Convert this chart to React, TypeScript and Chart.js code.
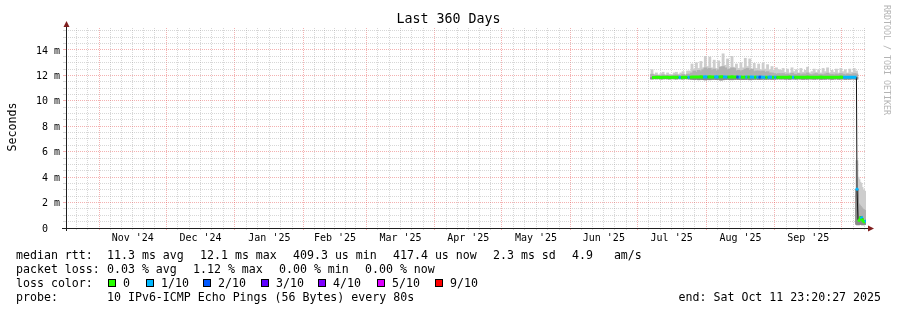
import React, { useEffect, useRef } from "react";
import { Chart, registerables } from "chart.js";

Chart.register(...registerables);

// ---------------- time window ----------------
const WINDOW_START_UTC = Date.UTC(2024, 9, 16, 23, 20, 27);
const WINDOW_DAYS = 360;
const TITLE = "Last 360 Days";
const END_LABEL = "end: Sat Oct 11 23:20:27 2025";
const MONTH_NAMES = ["Jan", "Feb", "Mar", "Apr", "May", "Jun", "Jul", "Aug", "Sep", "Oct", "Nov", "Dec"];
const GRID_MONTHS: [number, number][] = [
  [2024, 9], [2024, 10], [2024, 11], [2025, 0], [2025, 1], [2025, 2], [2025, 3],
  [2025, 4], [2025, 5], [2025, 6], [2025, 7], [2025, 8], [2025, 9], [2025, 10],
];

// ---------------- y axis ----------------
const Y_MAX = 15.73; // milliseconds
const Y_GRID_STEP = 0.5;
const Y_LABEL_EVERY = 2;

// ---------------- data (ms), one sample per day from firstSampleDay ----------------
const firstSampleDay = 263.7;
const median = [
  11.83, 11.84, 11.85, 11.85, 11.84, 11.85, 11.86, 11.85, 11.84, 11.85, 11.85, 11.86, 11.85, 11.84, 11.85, 11.86, 11.85,
  11.86, 11.87, 11.88, 11.87, 11.88, 11.89, 11.88, 11.9, 11.88, 11.89, 11.88, 11.87, 11.89, 11.88, 11.9, 11.89, 11.88,
  11.87, 11.88, 11.89, 11.88, 11.87, 11.88, 11.87, 11.86, 11.88, 11.87, 11.88, 11.87, 11.86, 11.87, 11.86, 11.87, 11.86,
  11.85, 11.86, 11.87, 11.86, 11.85, 11.86, 11.85,
  11.85, 11.86, 11.85, 11.86, 11.87, 11.86, 11.85, 11.86, 11.85, 11.86, 11.86, 11.85, 11.87, 11.86, 11.85, 11.86, 11.85,
  11.86, 11.87, 11.86, 11.85, 11.86, 11.85, 11.86, 11.86, 11.85, 11.86, 11.87, 11.86, 11.85, 11.86, 11.85, 11.86, 11.86, 11.85,
];
const pingMin = [
  11.72, 11.74, 11.73, 11.74, 11.72, 11.73, 11.74, 11.73, 11.72, 11.74, 11.73, 11.72, 11.74, 11.73, 11.72, 11.74, 11.73,
  11.72, 11.7, 11.68, 11.7, 11.66, 11.69, 11.67, 11.65, 11.68, 11.66, 11.69, 11.7, 11.67, 11.68, 11.64, 11.66, 11.68,
  11.7, 11.67, 11.66, 11.69, 11.7, 11.68, 11.69, 11.67, 11.68, 11.7, 11.66, 11.69, 11.7, 11.71, 11.69, 11.7, 11.72,
  11.7, 11.71, 11.72, 11.7, 11.71, 11.72, 11.73,
  11.72, 11.73, 11.71, 11.72, 11.7, 11.73, 11.72, 11.71, 11.73, 11.72, 11.7, 11.72, 11.71, 11.73, 11.72, 11.71, 11.72,
  11.73, 11.7, 11.72, 11.71, 11.73, 11.72, 11.7, 11.72, 11.73, 11.71, 11.72, 11.73, 11.7, 11.72, 11.71, 11.73, 11.72, 11.71,
];
const pingMid = [
  12.1, 12.0, 12.02, 11.98, 12.0, 12.05, 11.98, 12.02, 12.0, 11.97, 12.03, 12.05, 12.0, 12.02, 12.08, 11.98, 12.1,
  12.1, 12.2, 12.35, 12.25, 12.4, 12.3, 12.45, 12.6, 12.5, 12.55, 12.4, 12.5, 12.35, 12.45, 12.65, 12.7, 12.6,
  12.45, 12.5, 12.6, 12.55, 12.35, 12.4, 12.3, 12.4, 12.5, 12.55, 12.4, 12.5, 12.3, 12.35, 12.35, 12.3, 12.35,
  12.25, 12.3, 12.2, 12.2, 12.15, 12.1, 12.15,
  12.12, 12.15, 12.08, 12.12, 12.05, 12.18, 12.1, 12.08, 12.15, 12.05, 12.12, 12.1, 12.2, 12.08, 12.05, 12.12, 12.15,
  12.08, 12.1, 12.05, 12.12, 12.18, 12.08, 12.1, 12.05, 12.12, 12.08, 12.15, 12.1, 12.05, 12.12, 12.08, 12.1, 12.15, 12.12,
];
const pingMax = [
  12.45, 12.1, 12.2, 12.05, 12.15, 12.25, 12.05, 12.2, 12.1, 12.05, 12.2, 12.25, 12.1, 12.2, 12.3, 12.05, 12.35,
  12.35, 12.9, 12.5, 13.0, 12.55, 13.1, 12.6, 13.5, 12.7, 13.45, 12.6, 13.2, 12.55, 13.15, 12.7, 13.7, 12.8,
  13.3, 12.6, 13.5, 12.65, 12.9, 12.55, 13.0, 12.6, 13.35, 12.7, 13.3, 12.5, 12.95, 12.55, 12.9, 12.45, 12.95,
  12.5, 12.85, 12.45, 12.7, 12.4, 12.6, 12.45,
  12.4, 12.55, 12.25, 12.5, 12.2, 12.6, 12.3, 12.45, 12.2, 12.55, 12.25, 12.4, 12.65, 12.2, 12.3, 12.5, 12.25,
  12.45, 12.2, 12.55, 12.3, 12.6, 12.2, 12.4, 12.25, 12.5, 12.2, 12.55, 12.3, 12.45, 12.2, 12.5, 12.25, 12.55, 12.35,
];
// lost pings out of 10
const lossTenths = [
  0, 0, 0, 0, 0, 0, 0, 0, 0, 0,
  0, 0, 1, 0, 0, 0, 1, 0, 0, 0,
  0, 0, 0, 1, 1, 0, 0, 0, 1, 1,
  0, 0, 1, 1, 0, 0, 0, 0, 2, 1,
  0, 0, 1, 0, 1, 1, 0, 1, 2, 1,
  1, 0, 1, 1, 0, 1, 0, 0, 0, 0,
  0, 0, 0, 1, 0, 0, 0, 0, 0, 0,
  0, 0, 0, 0, 0, 0, 0, 0, 0, 0,
  0, 0, 0, 0, 0, 0, 1, 1, 1, 1,
  1, 1, 0,
];
// last days at finer resolution (after the latency drop)
const tailDays = [355.95, 356.4, 356.85, 357.3, 357.75, 358.2, 358.65, 359.1, 359.55, 359.95];
const tailMedian = [3.05, 0.65, 0.6, 0.7, 0.9, 0.75, 0.55, 0.5, 0.6, 0.55];
const tailMin = [0.3, 0.25, 0.3, 0.3, 0.35, 0.3, 0.25, 0.3, 0.3, 0.3];
const tailMid = [2.6, 1.9, 1.8, 1.7, 1.6, 1.5, 1.45, 1.4, 1.35, 1.3];
const tailMax = [5.3, 4.0, 3.8, 3.6, 3.5, 3.2, 3.0, 2.8, 2.9, 2.7];
const tailLoss = [1, 0, 0, 0, 1, 0, 0, 0, 1, 0];

// ---------------- legend texts ----------------
const rttStats = ["11.3 ms avg", "12.1 ms max", "409.3 us min", "417.4 us now", "2.3 ms sd", "4.9   am/s"];
const lossStats = ["0.03 % avg", "1.12 % max", "0.00 % min", "0.00 % now"];
const lossKeys = [0, 1, 2, 3, 4, 5, 9];
const lossKeyLabels = ["0", "1/10", "2/10", "3/10", "4/10", "5/10", "9/10"];
const probeText = "10 IPv6-ICMP Echo Pings (56 Bytes) every 80s";
const SIDE_TEXT = "RRDTOOL / TOBI OETIKER";

// ---------------- styles / layout ----------------
const LOSS_COLORS: Record<number, string> = {
  0: "#26ff00", 1: "#00b8ff", 2: "#0059ff", 3: "#5e00ff", 4: "#7e00ff", 5: "#dd00ff", 9: "#ff0000",
};
const MONO = '"DejaVu Sans Mono", monospace';
const GRID_COLOR = "rgba(160,160,160,0.42)";
const MGRID_COLOR = "rgba(228,70,70,0.42)";
const AXIS_COLOR = "#1f1f1f";
const ARROW_COLOR = "#801f1f";
const rttStatsX = [107, 200, 293, 393, 493, 572];
const lossStatsX = [107, 193, 279, 365];
const lossBoxX = [108, 146, 203, 261, 318, 377, 435];
const LEGEND_X = 16;
const LEGEND_VALUE_X = 107;
const LEGEND_BASE = [258.5, 272.5, 286.5, 300.5];

// ---------------- derived ----------------
const mainDays = median.map((_, i) => firstSampleDay + i);
const allDays = [...mainDays, ...tailDays];
const allMedian = [...median, ...tailMedian];
const allMin = [...pingMin, ...tailMin];
const allMid = [...pingMid, ...tailMid];
const allMax = [...pingMax, ...tailMax];
const allLoss = [...lossTenths, ...tailLoss];

const dayOf = (y: number, m: number) => (Date.UTC(y, m, 1) - WINDOW_START_UTC) / 86400000;

type Tk = { value: number; kind: string; text?: string };
const xTicks: Tk[] = [];
for (let k = 0; k < GRID_MONTHS.length - 1; k++) {
  const [y, m] = GRID_MONTHS[k];
  const s = dayOf(y, m);
  const e = dayOf(GRID_MONTHS[k + 1][0], GRID_MONTHS[k + 1][1]);
  const len = e - s;
  for (let j = 0; j < 6; j++) {
    const v = s + (j * len) / 6;
    if (v > 0.5 && v < WINDOW_DAYS - 0.5) {
      const t: Tk = { value: v, kind: j === 0 ? "major" : "minor" };
      if (j === 3 && v > 3 && v < WINDOW_DAYS - 3) t.text = `${MONTH_NAMES[m]} '${String(y).slice(2)}`;
      xTicks.push(t);
    }
  }
}
xTicks.sort((a, b) => a.value - b.value);

const yTicks: Tk[] = [];
for (let v = 0; v < Y_MAX; v += Y_GRID_STEP) {
  const isLabel = Math.abs(v % Y_LABEL_EVERY) < 1e-9;
  yTicks.push({
    value: v,
    kind: v === 0 ? "zero" : isLabel ? "major" : "minor",
    text: isLabel ? (v === 0 ? "0  " : `${v} m`) : "",
  });
}

const gridColor = (c: any) => {
  const k = c.tick && c.tick.kind;
  if (k === "major") return MGRID_COLOR;
  if (k === "minor") return GRID_COLOR;
  return "rgba(0,0,0,0)";
};

const isJump = (i: number) =>
  i < 0 || i >= allMedian.length - 1 || Math.abs(allMedian[i + 1] - allMedian[i]) > 1;

const decorPlugin = {
  id: "rrdDecor",
  afterDraw(chart: any) {
    const ctx: CanvasRenderingContext2D = chart.ctx;
    const a = chart.chartArea;
    ctx.save();
    // axes
    ctx.strokeStyle = AXIS_COLOR;
    ctx.lineWidth = 1;
    ctx.beginPath();
    ctx.moveTo(a.left - 4, a.bottom + 0.5);
    ctx.lineTo(a.right + 3, a.bottom + 0.5);
    ctx.moveTo(a.left + 0.5, a.bottom + 3);
    ctx.lineTo(a.left + 0.5, a.top - 2);
    ctx.stroke();
    // arrows
    ctx.fillStyle = ARROW_COLOR;
    ctx.beginPath();
    ctx.moveTo(a.left + 0.5, a.top - 7);
    ctx.lineTo(a.left - 2.5, a.top - 1);
    ctx.lineTo(a.left + 3.5, a.top - 1);
    ctx.closePath();
    ctx.fill();
    ctx.beginPath();
    ctx.moveTo(a.right + 8, a.bottom + 0.5);
    ctx.lineTo(a.right + 2, a.bottom - 2.5);
    ctx.lineTo(a.right + 2, a.bottom + 3.5);
    ctx.closePath();
    ctx.fill();

    ctx.fillStyle = "#000";
    ctx.textBaseline = "alphabetic";
    // title
    ctx.font = `13.3px ${MONO}`;
    ctx.textAlign = "center";
    ctx.fillText(TITLE, chart.width / 2, 23);
    // y title
    ctx.save();
    ctx.font = `11.6px ${MONO}`;
    ctx.translate(15.5, (a.top + a.bottom) / 2 - 1);
    ctx.rotate(-Math.PI / 2);
    ctx.fillText("Seconds", 0, 0);
    ctx.restore();
    // side text
    ctx.save();
    ctx.font = `8.3px ${MONO}`;
    ctx.fillStyle = "#b4b4b4";
    ctx.textAlign = "left";
    ctx.translate(883.7, 5);
    ctx.rotate(Math.PI / 2);
    ctx.fillText(SIDE_TEXT, 0, 0);
    ctx.restore();

    // legend
    ctx.font = `11.6px ${MONO}`;
    ctx.textAlign = "left";
    ctx.fillStyle = "#000";
    ctx.fillText("median rtt:", LEGEND_X, LEGEND_BASE[0]);
    rttStats.forEach((t, i) => ctx.fillText(t, rttStatsX[i], LEGEND_BASE[0]));
    ctx.fillText("packet loss:", LEGEND_X, LEGEND_BASE[1]);
    lossStats.forEach((t, i) => ctx.fillText(t, lossStatsX[i], LEGEND_BASE[1]));
    ctx.fillText("loss color:", LEGEND_X, LEGEND_BASE[2]);
    lossKeys.forEach((k, i) => {
      const bx = lossBoxX[i];
      const by = LEGEND_BASE[2] - 7.5;
      ctx.fillStyle = LOSS_COLORS[k];
      ctx.fillRect(bx, by, 8, 8);
      ctx.strokeStyle = "#000";
      ctx.strokeRect(bx + 0.5, by + 0.5, 7, 7);
      ctx.fillStyle = "#000";
      ctx.fillText(lossKeyLabels[i], bx + 15, LEGEND_BASE[2]);
    });
    ctx.fillText("probe:", LEGEND_X, LEGEND_BASE[3]);
    ctx.fillText(probeText, LEGEND_VALUE_X, LEGEND_BASE[3]);
    ctx.textAlign = "right";
    ctx.fillText(END_LABEL, 881, LEGEND_BASE[3]);
    ctx.restore();
  },
};

const tickFont = { family: MONO, size: 10 };

export default function App() {
  const ref = useRef<HTMLCanvasElement>(null);
  useEffect(() => {
    const canvas = ref.current;
    if (!canvas) return;
    const floating = (lo: number[], hi: number[]) => allDays.map((x, i) => ({ x, y: [lo[i], hi[i]] }));
    const chart = new Chart(canvas, {
      type: "bar",
      data: {
        datasets: [
          {
            type: "bar",
            data: floating(allMin, allMax) as any,
            backgroundColor: "#cdcdcd",
            barThickness: 2.2,
            grouped: false,
            order: 6,
          } as any,
          {
            type: "bar",
            data: floating(allMin, allMid) as any,
            backgroundColor: "#b0b0b0",
            barThickness: 3,
            grouped: false,
            order: 5,
          } as any,
          {
            type: "bar",
            data: floating(allMin, allMedian) as any,
            backgroundColor: "#8a8a8a",
            barThickness: 3,
            grouped: false,
            order: 4,
          } as any,
          {
            type: "line",
            data: allDays.map((x, i) => ({ x, y: allMedian[i] })),
            borderColor: "#151515",
            borderWidth: 1,
            pointRadius: 0,
            order: 2,
          } as any,
          {
            type: "line",
            data: allDays.map((x, i) => ({ x, y: allMedian[i] })),
            borderColor: LOSS_COLORS[0],
            borderWidth: 3,
            borderCapStyle: "butt",
            pointRadius: (c: any) => (isJump(c.dataIndex - 1) && isJump(c.dataIndex) ? 1.6 : 0),
            pointBorderWidth: 0,
            pointBackgroundColor: (c: any) => LOSS_COLORS[allLoss[c.dataIndex]] || LOSS_COLORS[0],
            segment: {
              borderColor: (c: any) =>
                Math.abs(c.p1.parsed.y - c.p0.parsed.y) > 1
                  ? "rgba(0,0,0,0)"
                  : LOSS_COLORS[allLoss[c.p0DataIndex]] || LOSS_COLORS[0],
            },
            order: 1,
          } as any,
        ],
      },
      options: {
        animation: false,
        responsive: false,
        devicePixelRatio: 1,
        events: [],
        layout: { padding: { top: 28, right: 31, bottom: 0, left: 0 } },
        plugins: {
          legend: { display: false },
          title: { display: false },
          tooltip: { enabled: false },
        },
        scales: {
          x: {
            type: "linear",
            min: 0,
            max: WINDOW_DAYS,
            bounds: "data",
            offset: false,
            afterBuildTicks: (s: any) => {
              s.ticks = xTicks.map((t) => ({ ...t }));
            },
            afterFit: (s: any) => {
              s.height = 82;
            },
            grid: {
              offset: false,
              color: gridColor,
              tickColor: gridColor,
              lineWidth: 1,
              tickLength: 2,
              drawTicks: true,
            },
            border: { display: false, dash: [1, 1] },
            ticks: {
              autoSkip: false,
              maxRotation: 0,
              minRotation: 0,
              padding: 2,
              color: "#000",
              font: tickFont,
              callback: (_v: any, i: number, ticks: any[]) => (ticks[i] && ticks[i].text) || "",
            },
          },
          y: {
            type: "linear",
            min: 0,
            max: Y_MAX,
            bounds: "data",
            afterBuildTicks: (s: any) => {
              s.ticks = yTicks.map((t) => ({ ...t }));
            },
            afterFit: (s: any) => {
              s.width = 66;
            },
            grid: {
              color: gridColor,
              tickColor: gridColor,
              lineWidth: 1,
              tickLength: 3,
              drawTicks: true,
            },
            border: { display: false, dash: [1, 1] },
            ticks: {
              autoSkip: false,
              padding: 3,
              labelOffset: 1,
              color: "#000",
              font: tickFont,
              callback: (_v: any, i: number, ticks: any[]) => (ticks[i] && ticks[i].text) || "",
            },
          },
        },
      } as any,
      plugins: [decorPlugin],
    });
    return () => chart.destroy();
  }, []);
  return (
    <div style={{ position: "absolute", left: 0, top: 0, width: 897, height: 310, background: "#fff" }}>
      <canvas ref={ref} width={897} height={310} style={{ display: "block", width: 897, height: 310 }} />
    </div>
  );
}
